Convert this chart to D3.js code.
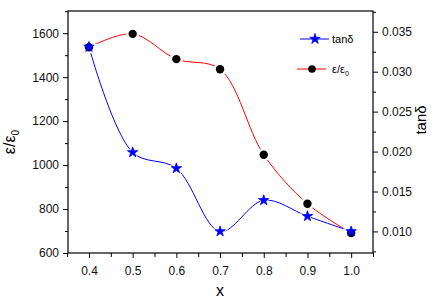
<!DOCTYPE html>
<html>
<head>
<meta charset="utf-8">
<script src="https://cdn.jsdelivr.net/npm/d3@7"></script>
<style>
  body { margin: 0; background: #fff; }
  svg { display: block; font-family: "Liberation Sans", Arial, sans-serif; }
</style>
</head>
<body>
<svg id="chart" width="440" height="302"></svg>
<script>
// data
var xValues = [0.4, 0.5, 0.6, 0.7, 0.8, 0.9, 1.0];
var epsValues = [1536, 1597, 1482, 1436, 1047, 824, 691];
var tanValues = [0.0331, 0.0199, 0.0179, 0.0100, 0.0139, 0.0119, 0.0100];

var xTicks = [0.4, 0.5, 0.6, 0.7, 0.8, 0.9, 1.0];
var epsTicks = [600, 800, 1000, 1200, 1400, 1600];
var tanTicks = [0.010, 0.015, 0.020, 0.025, 0.030, 0.035];

var w = 440, h = 302;
// plot box edges (note: "top" is reserved on window, so use other names)
var padLeft = 68, padRight = 373, padTop = 11, padBottom = 253;

var svg = d3.select("#chart");

var xScale = d3.scaleLinear().domain([0.352, 1.05]).range([padLeft, padRight]);
var yScaleLeft = d3.scaleLinear().domain([600, 1701]).range([padBottom, padTop]);
var yScaleRight = d3.scaleLinear().domain([0.0073, 0.0376]).range([padBottom, padTop]);

// frame
svg.append("rect")
    .attr("x", padLeft).attr("y", padTop)
    .attr("width", padRight - padLeft).attr("height", padBottom - padTop)
    .style("fill", "none").style("stroke", "black").style("stroke-width", 1.2);

function styleAxis(g) {
    g.select(".domain").remove();
    g.selectAll("line").style("stroke", "black").style("stroke-width", 1);
    g.selectAll("text").style("font-size", "12px").style("fill", "#111")
        .style("font-family", "'Liberation Sans', Arial, sans-serif");
}

// minor ticks first
svg.append("g")
    .attr("transform", `translate(0,${padBottom})`)
    .call(d3.axisBottom(xScale).tickValues(d3.range(0.35, 1.06, 0.1)).tickSize(4).tickFormat(""))
    .call(styleAxis);
svg.append("g")
    .attr("transform", `translate(${padLeft},0)`)
    .call(d3.axisLeft(yScaleLeft).tickValues(d3.range(700, 1701, 200)).tickSize(3).tickFormat(""))
    .call(styleAxis);
svg.append("g")
    .attr("transform", `translate(${padRight},0)`)
    .call(d3.axisRight(yScaleRight).tickValues(d3.range(0.0075, 0.0376, 0.005)).tickSize(3).tickFormat(""))
    .call(styleAxis);

// major ticks
svg.append("g")
    .attr("transform", `translate(0,${padBottom})`)
    .call(d3.axisBottom(xScale).tickValues(xTicks).tickSize(5).tickPadding(8).tickFormat(d3.format(".1f")))
    .call(styleAxis);
svg.append("g")
    .attr("transform", `translate(${padLeft},0)`)
    .call(d3.axisLeft(yScaleLeft).tickValues(epsTicks).tickSize(5).tickPadding(4).tickFormat(d3.format("d")))
    .call(styleAxis);
svg.append("g")
    .attr("transform", `translate(${padRight},0)`)
    .call(d3.axisRight(yScaleRight).tickValues(tanTicks).tickSize(5).tickPadding(4).tickFormat(d3.format(".3f")))
    .call(styleAxis);

var epsData = xValues.map((x, i) => ({x: x, y: epsValues[i]}));
var tanData = xValues.map((x, i) => ({x: x, y: tanValues[i]}));

var lineLeft = d3.line()
    .curve(d3.curveCatmullRom.alpha(0.5))
    .x(d => xScale(d.x))
    .y(d => yScaleLeft(d.y));
var lineRight = d3.line()
    .curve(d3.curveCatmullRom.alpha(0.5))
    .x(d => xScale(d.x))
    .y(d => yScaleRight(d.y));

svg.append("path").datum(epsData)
    .attr("d", lineLeft)
    .style("fill", "none").style("stroke", "red").style("stroke-width", 1);
svg.append("path").datum(tanData)
    .attr("d", lineRight)
    .style("fill", "none").style("stroke", "blue").style("stroke-width", 1);

var star = d3.symbol().type(d3.symbolStar).size(34);

// white halos so the lines stop short of the markers
svg.selectAll(".halo-eps").data(epsData).enter().append("circle")
    .attr("cx", d => xScale(d.x)).attr("cy", d => yScaleLeft(d.y))
    .attr("r", 6.5).style("fill", "white");
svg.selectAll(".halo-tan").data(tanData).enter().append("path")
    .attr("d", d3.symbol().type(d3.symbolStar).size(95))
    .attr("transform", d => `translate(${xScale(d.x)},${yScaleRight(d.y)})`)
    .style("fill", "white");

svg.selectAll(".dot-eps").data(epsData).enter().append("circle")
    .attr("cx", d => xScale(d.x)).attr("cy", d => yScaleLeft(d.y))
    .attr("r", 4.2).style("fill", "black");
svg.selectAll(".dot-tan").data(tanData).enter().append("path")
    .attr("d", star)
    .attr("transform", d => `translate(${xScale(d.x)},${yScaleRight(d.y)})`)
    .style("fill", "blue").style("stroke", "blue").style("stroke-width", 0.8);

// legend
var legend = svg.append("g").attr("class", "legend");
legend.append("line").attr("x1", 300).attr("x2", 329).attr("y1", 39).attr("y2", 39)
    .style("stroke", "blue");
legend.append("path").attr("d", star)
    .attr("transform", "translate(315,39)")
    .style("fill", "blue").style("stroke", "blue").style("stroke-width", 0.8);
legend.append("text").attr("x", 332).attr("y", 43)
    .style("font-size", "11px").text("tanδ");

legend.append("line").attr("x1", 297).attr("x2", 326).attr("y1", 69).attr("y2", 69)
    .style("stroke", "red");
legend.append("circle").attr("cx", 312).attr("cy", 69).attr("r", 3.8)
    .style("fill", "black");
var lt = legend.append("text").attr("x", 332).attr("y", 73).style("font-size", "11px");
lt.append("tspan").text("ε/ε");
lt.append("tspan").attr("dy", 3).style("font-size", "7px").text("0");

// axis titles
var yl = svg.append("text")
    .attr("transform", "translate(15,142) rotate(-90)")
    .attr("text-anchor", "middle")
    .style("font-size", "16px");
yl.append("tspan").text("ε/ε");
yl.append("tspan").attr("dy", 4).style("font-size", "10px").text("0");

svg.append("text")
    .attr("transform", "translate(426,120) rotate(-90)")
    .attr("text-anchor", "middle")
    .style("font-size", "15px")
    .text("tanδ");

svg.append("text")
    .attr("x", 220).attr("y", 296)
    .attr("text-anchor", "middle")
    .style("font-size", "16px")
    .text("x");
</script>
</body>
</html>
